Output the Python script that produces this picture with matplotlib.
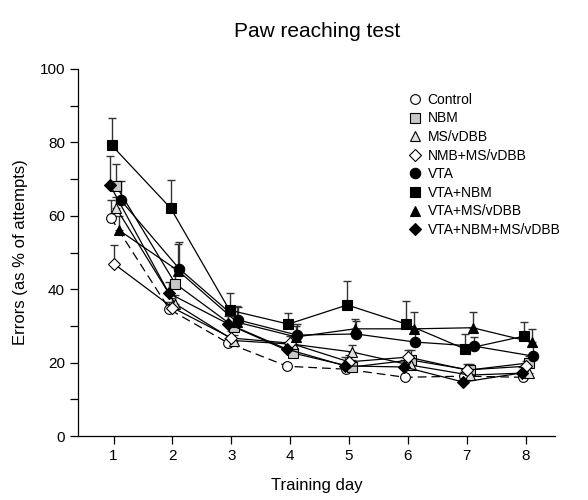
import numpy as np
import matplotlib
matplotlib.use('Agg')
import matplotlib.pyplot as plt

plt.rcParams['font.family'] = ['Liberation Sans', 'DejaVu Sans']

days = [1, 2, 3, 4, 5, 6, 7, 8]

groups = ['Control', 'NBM', 'MS/vDBB', 'NMB+MS/vDBB',
          'VTA', 'VTA+NBM', 'VTA+MS/vDBB', 'VTA+NBM+MS/vDBB']

# mean errors (% of attempts) per training day
control = [59.5, 34.5, 25.3, 19.0, 18.2, 16.0, 16.3, 16.0]
nbm = [68.0, 41.5, 29.7, 22.6, 18.8, 20.7, 18.0, 19.9]
msvdbb = [62.0, 36.0, 26.0, 25.0, 22.9, 19.3, 16.6, 17.2]
nmb_msvdbb = [47.0, 35.0, 26.7, 25.3, 20.2, 21.5, 18.0, 19.0]
vta = [64.3, 45.5, 31.6, 27.5, 27.8, 25.6, 24.5, 21.8]
vta_nbm = [79.2, 62.1, 34.3, 30.5, 35.7, 30.5, 23.7, 27.2]
vta_msvdbb = [56.0, 45.0, 31.0, 27.0, 29.2, 29.2, 29.5, 25.6]
vta_nbm_msvdbb = [68.4, 38.9, 30.6, 23.7, 19.1, 18.8, 14.7, 17.2]

# upper SEM
control_err = [4.8, 2.0, 1.5, 1.0, 1.2, 1.0, 1.2, 1.0]
nbm_err = [6.0, 4.5, 3.0, 2.0, 2.0, 2.6, 1.5, 2.0]
msvdbb_err = [3.0, 2.5, 1.5, 2.0, 2.0, 2.0, 1.5, 1.5]
nmb_msvdbb_err = [5.0, 2.5, 2.0, 2.0, 2.0, 1.8, 1.5, 1.5]
vta_err = [5.2, 7.4, 3.5, 3.0, 3.5, 3.0, 2.5, 2.7]
vta_nbm_err = [7.4, 7.7, 4.7, 3.0, 6.5, 6.3, 4.0, 3.8]
vta_msvdbb_err = [4.0, 7.3, 4.5, 3.0, 2.8, 4.6, 4.3, 3.6]
vta_nbm_msvdbb_err = [8.0, 3.0, 2.0, 2.0, 2.5, 2.0, 1.8, 1.5]

means = [control, nbm, msvdbb, nmb_msvdbb, vta, vta_nbm, vta_msvdbb, vta_nbm_msvdbb]
errs = [control_err, nbm_err, msvdbb_err, nmb_msvdbb_err,
        vta_err, vta_nbm_err, vta_msvdbb_err, vta_nbm_msvdbb_err]

markers = ['o', 's', '^', 'D', 'o', 's', '^', 'D']
faces = ['white', '#c8c8c8', '#e0e0e0', 'white', 'black', 'black', 'black', 'black']
sizes = [7, 6.5, 7, 6, 7.5, 6.5, 7, 6.5]
styles = [(0, (7, 4)), '-', '-', '-', '-', '-', '-', '-']
shifts = [-0.05, 0.05, 0.05, 0.0, 0.12, -0.03, 0.1, -0.06]

fig = plt.figure(figsize=(5.88, 5.0), dpi=100)
ax = fig.add_axes([0.133, 0.128, 0.811, 0.734])

for i in range(len(groups)):
    x = np.array(days) + shifts[i]
    y = np.array(means[i])
    ax.errorbar(x, y, yerr=[np.zeros(len(y)), errs[i]], fmt='none',
                ecolor='#333333', elinewidth=1.0, capsize=3, capthick=1.0, zorder=2)
    ax.plot(x, y, color='black', lw=0.9, ls=styles[i], marker=markers[i],
            ms=sizes[i], mfc=faces[i], mec='black', mew=0.8,
            label=groups[i], zorder=3)

ax.set_xlim(0.4, 8.5)
ax.set_ylim(0, 100)
ax.set_xticks(days)
ax.set_yticks(range(0, 101, 20))
ax.set_yticks(range(10, 100, 20), minor=True)
ax.tick_params(axis='both', which='both', direction='out', length=6, width=0.9,
               labelsize=11)
for s in ['top', 'right']:
    ax.spines[s].set_visible(False)
ax.spines['left'].set_linewidth(0.9)
ax.spines['bottom'].set_linewidth(0.9)

ax.set_ylabel('Errors (as % of attempts)', fontsize=12, labelpad=8)
ax.set_xlabel('Training day', fontsize=12, labelpad=11)
ax.set_title('Paw reaching test', fontsize=15, pad=23)

ax.legend(loc='upper left', bbox_to_anchor=(0.695, 0.95), frameon=False,
          handlelength=0, handletextpad=0.9, labelspacing=0.33, fontsize=10,
          borderaxespad=0)

fig.savefig('out.png', dpi=100)
